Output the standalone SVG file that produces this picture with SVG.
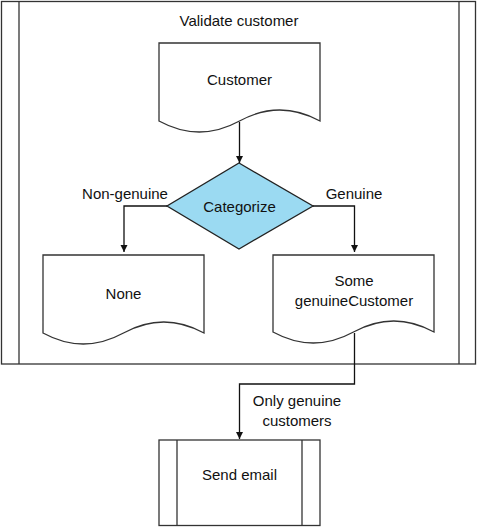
<svg xmlns="http://www.w3.org/2000/svg" width="478" height="527" viewBox="0 0 478 527">
<style>
.s{fill:#fff;stroke:#333;stroke-width:1.3}
.d{fill:#9bdaf2;stroke:#222;stroke-width:1.3}
.t{font-family:"Liberation Sans",Arial,sans-serif;font-size:15px;fill:#111;text-anchor:middle;dominant-baseline:central}
.c{fill:none;stroke:#111;stroke-width:1.3}
</style>
<defs>
<marker id="ah" viewBox="0 0 10 10" refX="10" refY="5" markerWidth="7" markerHeight="8" orient="auto" markerUnits="userSpaceOnUse">
<path d="M0,0 L10,5 L0,10 Z" fill="#111"/>
</marker>
</defs>
<g id="validate">
<rect class="s" x="1.5" y="1.5" width="474" height="362.5"/>
<line class="s" x1="19" y1="1.5" x2="19" y2="364"/>
<line class="s" x1="459" y1="1.5" x2="459" y2="364"/>
<text class="t" x="239" y="20">Validate customer</text>
</g>
<g id="customer">
<path class="s" d="M159,43 H320 V121 Q279.75,99 239.5,121 Q199.25,143 159,121 Z"/>
<text class="t" x="239.5" y="79">Customer</text>
</g>
<g id="categorize">
<path class="d" d="M239,163 L313,206 L239,249 L167,206 Z"/>
<text class="t" x="239.5" y="206">Categorize</text>
</g>
<g id="none">
<path class="s" d="M43,255 H204 V333 Q163.75,311 123.5,333 Q83.25,355 43,333 Z"/>
<text class="t" x="123.5" y="293">None</text>
</g>
<g id="some">
<path class="s" d="M273,255 H434 V332 Q393.75,310 353.5,332 Q313.25,354 273,332 Z"/>
<text class="t" x="354" y="280">Some</text>
<text class="t" x="354" y="300">genuineCustomer</text>
</g>
<g id="send-email">
<rect class="s" x="159" y="440" width="161" height="85.5"/>
<line class="s" x1="177" y1="440" x2="177" y2="525.5"/>
<line class="s" x1="302" y1="440" x2="302" y2="525.5"/>
<text class="t" x="239.5" y="474">Send email</text>
</g>
<g id="connectors">
<path class="c" d="M239.5,122 V163" marker-end="url(#ah)"/>
<path class="c" d="M167,206 H124 V252" marker-end="url(#ah)"/>
<path class="c" d="M313,206 H354.5 V252" marker-end="url(#ah)"/>
<path class="c" d="M354.5,333 V384 H239.5 V439" marker-end="url(#ah)"/>
<text class="t" x="125" y="193">Non-genuine</text>
<text class="t" x="354" y="193">Genuine</text>
<text class="t" x="297" y="400">Only genuine</text>
<text class="t" x="297" y="420">customers</text>
</g>
</svg>
